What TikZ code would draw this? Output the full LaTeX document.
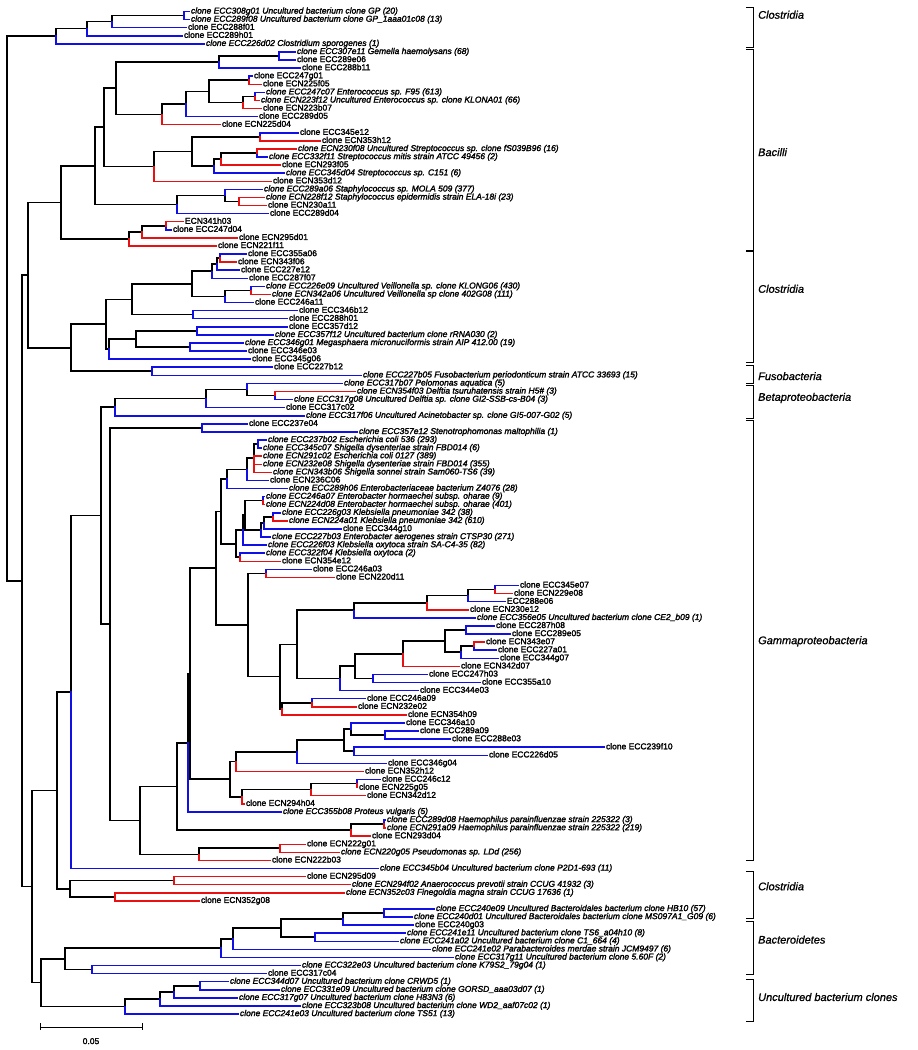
\documentclass[tikz,border=0pt]{standalone}
\usepackage{fontspec}
\newfontfamily\treefont{Liberation Sans}[FakeBold=2]
\newfontfamily\cladefont{Liberation Sans}[FakeBold=1]
\definecolor{eccblue}{RGB}{16,16,230}
\definecolor{ecnred}{RGB}{232,16,16}
\tikzset{
    stem/.style = {
        line width=1.6pt,
        black,
        line cap=rect,
    },
    eccbr/.style = {
        line width=1.5pt,
        eccblue,
        line cap=rect,
    },
    ecnbr/.style = {
        line width=1.5pt,
        ecnred,
        line cap=rect,
    },
    leaf/.style = {
        anchor=west, inner xsep=1.8pt, inner ysep=0pt,
        text height=6pt, text depth=1.8pt,
        font=\treefont\fontsize{8.5}{9}\selectfont
    },
    sp/.style = {
        leaf,
        font=\treefont\fontsize{8.5}{9}\selectfont\itshape
    },
    clade/.style = {
        anchor=west, inner sep=0pt,
        font=\cladefont\fontsize{11}{12}\selectfont\itshape
    },
    brk/.style = {
        line width=0.9pt,
        black,
    }
}
\newcommand\phylum[4]{%
  \draw[brk] (746,#1) -- (753,#1) -- (753,#2) -- (746,#2);
  \node[clade] at (758,#3) {#4};}

\begin{document}
\begin{tikzpicture}[x=1pt, y=-8.085pt]
  \useasboundingbox (0,-0.4224) rectangle (918,129.45);

  % Leaves (one row per clone)
  \node[sp]   (L1)   at (189,1)   {clone ECC308g01 Uncultured bacterium clone GP (20)};
  \node[sp]   (L2)   at (189,2)   {clone ECC289f08 Uncultured bacterium clone GP\_1aaa01c08 (13)};
  \node[leaf] (L3)   at (186,3)   {clone ECC288f01};
  \node[leaf] (L4)   at (182,4)   {clone ECC289h01};
  \node[sp]   (L5)   at (204,5)   {clone ECC226d02 Clostridium sporogenes (1)};
  \node[sp]   (L6)   at (295,6)   {clone ECC307e11 Gemella haemolysans (68)};
  \node[leaf] (L7)   at (295,7)   {clone ECC289e06};
  \node[leaf] (L8)   at (300,8)   {clone ECC288b11};
  \node[leaf] (L9)   at (252,9)   {clone ECC247g01};
  \node[leaf] (L10)  at (261,10)  {clone ECN225f05};
  \node[sp]   (L11)  at (264,11)  {clone ECC247c07 Enterococcus sp. F95 (613)};
  \node[sp]   (L12)  at (259,12)  {clone ECN223f12 Uncultured Enterococcus sp. clone KLONA01 (66)};
  \node[leaf] (L13)  at (261,13)  {clone ECN223b07};
  \node[leaf] (L14)  at (257,14)  {clone ECC289d05};
  \node[leaf] (L15)  at (220,15)  {clone ECN225d04};
  \node[leaf] (L16)  at (298,16)  {clone ECC345e12};
  \node[leaf] (L17)  at (320,17)  {clone ECN353h12};
  \node[sp]   (L18)  at (296,18)  {clone ECN230f08 Uncultured Streptococcus sp. clone fS039B96 (16)};
  \node[sp]   (L19)  at (267,19)  {clone ECC332f11 Streptococcus mitis strain ATCC 49456 (2)};
  \node[leaf] (L20)  at (280,20)  {clone ECN293f05};
  \node[sp]   (L21)  at (284,21)  {clone ECC345d04 Streptococcus sp. C151 (6)};
  \node[leaf] (L22)  at (271,22)  {clone ECN353d12};
  \node[sp]   (L23)  at (262,23)  {clone ECC289a06 Staphylococcus sp. MOLA 509 (377)};
  \node[sp]   (L24)  at (264,24)  {clone ECN228f12 Staphylococcus epidermidis strain ELA-18i (23)};
  \node[leaf] (L25)  at (266,25)  {clone ECN230a11};
  \node[leaf] (L26)  at (268,26)  {clone ECC289d04};
  \node[leaf] (L27)  at (183,27)  {ECN341h03};
  \node[leaf] (L28)  at (171,28)  {clone ECC247d04};
  \node[leaf] (L29)  at (237,29)  {clone ECN295d01};
  \node[leaf] (L30)  at (216,30)  {clone ECN221f11};
  \node[leaf] (L31)  at (246,31)  {clone ECC355a06};
  \node[leaf] (L32)  at (236,32)  {clone ECN343f06};
  \node[leaf] (L33)  at (239,33)  {clone ECC227e12};
  \node[leaf] (L34)  at (247,34)  {clone ECC287f07};
  \node[sp]   (L35)  at (264,35)  {clone ECC226e09 Uncultured Veillonella sp. clone KLONG06 (430)};
  \node[sp]   (L36)  at (270,36)  {clone ECN342a06 Uncultured Veillonella sp clone 402G08 (111)};
  \node[leaf] (L37)  at (253,37)  {clone ECC246a11};
  \node[leaf] (L38)  at (297,38)  {clone ECC346b12};
  \node[leaf] (L39)  at (287,39)  {clone ECC288h01};
  \node[leaf] (L40)  at (287,40)  {clone ECC357d12};
  \node[sp]   (L41)  at (273,41)  {clone ECC357f12 Uncultured bacterium clone rRNA030 (2)};
  \node[sp]   (L42)  at (243,42)  {clone ECC346g01 Megasphaera micronuciformis strain AIP 412.00 (19)};
  \node[leaf] (L43)  at (246,43)  {clone ECC346e03};
  \node[leaf] (L44)  at (250,44)  {clone ECC345g06};
  \node[leaf] (L45)  at (272,45)  {clone ECC227b12};
  \node[sp]   (L46)  at (361,46)  {clone ECC227b05 Fusobacterium periodonticum strain ATCC 33693 (15)};
  \node[sp]   (L47)  at (342,47)  {clone ECC317b07 Pelomonas aquatica (5)};
  \node[sp]   (L48)  at (355,48)  {clone ECN354f03 Delftia tsuruhatensis strain H5\# (3)};
  \node[sp]   (L49)  at (292,49)  {clone ECC317g08 Uncultured Delftia sp. clone GI2-SSB-cs-B04 (3)};
  \node[leaf] (L50)  at (284,50)  {clone ECC317c02};
  \node[sp]   (L51)  at (304,51)  {clone ECC317f06 Uncultured Acinetobacter sp. clone GI5-007-G02 (5)};
  \node[leaf] (L52)  at (247,52)  {clone ECC237e04};
  \node[sp]   (L53)  at (357,53)  {clone ECC357e12 Stenotrophomonas maltophilia (1)};
  \node[sp]   (L54)  at (266,54)  {clone ECC237b02 Escherichia coli 536 (293)};
  \node[sp]   (L55)  at (261,55)  {clone ECC345c07 Shigella dysenteriae strain FBD014 (6)};
  \node[sp]   (L56)  at (261,56)  {clone ECN291c02 Escherichia coli 0127 (389)};
  \node[sp]   (L57)  at (261,57)  {clone ECN232e08 Shigella dysenteriae strain FBD014 (355)};
  \node[sp]   (L58)  at (271,58)  {clone ECN343b06 Shigella sonnei strain Sam060-TS6 (39)};
  \node[leaf] (L59)  at (268,59)  {clone ECN236C06};
  \node[sp]   (L60)  at (287,60)  {clone ECC289h06 Enterobacteriaceae bacterium Z4076 (28)};
  \node[sp]   (L61)  at (264,61)  {clone ECC246a07 Enterobacter hormaechei subsp. oharae (9)};
  \node[sp]   (L62)  at (264,62)  {clone ECN224d08 Enterobacter hormaechei subsp. oharae (401)};
  \node[sp]   (L63)  at (280,63)  {clone ECC226g03 Klebsiella pneumoniae 342 (38)};
  \node[sp]   (L64)  at (287,64)  {clone ECN224a01 Klebsiella pneumoniae 342 (610)};
  \node[leaf] (L65)  at (341,65)  {clone ECC344g10};
  \node[sp]   (L66)  at (270,66)  {clone ECC227b03 Enterobacter aerogenes strain CTSP30 (271)};
  \node[sp]   (L67)  at (266,67)  {clone ECC226f03 Klebsiella oxytoca strain SA-C4-35 (82)};
  \node[sp]   (L68)  at (264,68)  {clone ECC322f04 Klebsiella oxytoca (2)};
  \node[leaf] (L69)  at (280,69)  {clone ECN354e12};
  \node[leaf] (L70)  at (311,70)  {clone ECC246a03};
  \node[leaf] (L71)  at (334,71)  {clone ECN220d11};
  \node[leaf] (L72)  at (518,72)  {clone ECC345e07};
  \node[leaf] (L73)  at (512,73)  {clone ECN229e08};
  \node[leaf] (L74)  at (505,74)  {ECC288e06};
  \node[leaf] (L75)  at (468,75)  {clone ECN230e12};
  \node[sp]   (L76)  at (475,76)  {clone ECC356e05 Uncultured bacterium clone CE2\_b09 (1)};
  \node[leaf] (L77)  at (494,77)  {clone ECC287h08};
  \node[leaf] (L78)  at (510,78)  {clone ECC289e05};
  \node[leaf] (L79)  at (484,79)  {clone ECN343e07};
  \node[leaf] (L80)  at (496,80)  {clone ECC227a01};
  \node[leaf] (L81)  at (498,81)  {clone ECC344g07};
  \node[leaf] (L82)  at (459,82)  {clone ECN342d07};
  \node[leaf] (L83)  at (427,83)  {clone ECC247h03};
  \node[leaf] (L84)  at (480,84)  {clone ECC355a10};
  \node[leaf] (L85)  at (418,85)  {clone ECC344e03};
  \node[leaf] (L86)  at (365,86)  {clone ECC246a09};
  \node[leaf] (L87)  at (356,87)  {clone ECN232e02};
  \node[leaf] (L88)  at (406,88)  {clone ECN354h09};
  \node[leaf] (L89)  at (404,89)  {clone ECC346a10};
  \node[leaf] (L90)  at (418,90)  {clone ECC289a09};
  \node[leaf] (L91)  at (450,91)  {clone ECC288e03};
  \node[leaf] (L92)  at (604,92)  {clone ECC239f10};
  \node[leaf] (L93)  at (487,93)  {clone ECC226d05};
  \node[leaf] (L94)  at (386,94)  {clone ECC346g04};
  \node[leaf] (L95)  at (363,95)  {clone ECN352h12};
  \node[leaf] (L96)  at (380,96)  {clone ECC246c12};
  \node[leaf] (L97)  at (357,97)  {clone ECN225g05};
  \node[leaf] (L98)  at (365,98)  {clone ECN342d12};
  \node[leaf] (L99)  at (244,99)  {clone ECN294h04};
  \node[sp]   (L100) at (281,100) {clone ECC355b08 Proteus vulgaris (5)};
  \node[sp]   (L101) at (385,101) {clone ECC289d08 Haemophilus parainfluenzae strain 225322 (3)};
  \node[sp]   (L102) at (385,102) {clone ECN291a09 Haemophilus parainfluenzae strain 225322 (219)};
  \node[leaf] (L103) at (370,103) {clone ECN293d04};
  \node[leaf] (L104) at (305,104) {clone ECN222g01};
  \node[sp]   (L105) at (339,105) {clone ECN220g05 Pseudomonas sp. LDd (256)};
  \node[leaf] (L106) at (270,106) {clone ECN222b03};
  \node[sp]   (L107) at (378,107) {clone ECC345b04 Uncultured bacterium clone P2D1-693 (11)};
  \node[leaf] (L108) at (305,108) {clone ECN295d09};
  \node[sp]   (L109) at (350,109) {clone ECN294f02 Anaerococcus prevotii strain CCUG 41932 (3)};
  \node[sp]   (L110) at (344,110) {clone ECN352c03 Finegoldia magna strain CCUG 17636 (1)};
  \node[leaf] (L111) at (199,111) {clone ECN352g08};
  \node[sp]   (L112) at (434,112) {clone ECC240e09 Uncultured Bacteroidales bacterium clone HB10 (57)};
  \node[sp]   (L113) at (412,113) {clone ECC240d01 Uncultured Bacteroidales bacterium clone MS097A1\_G09 (6)};
  \node[leaf] (L114) at (413,114) {clone ECC240g03};
  \node[sp]   (L115) at (405,115) {clone ECC241e11 Uncultured bacterium clone TS6\_a04h10 (8)};
  \node[sp]   (L116) at (398,116) {clone ECC241a02 Uncultured bacterium clone C1\_664 (4)};
  \node[sp]   (L117) at (430,117) {clone ECC241e02 Parabacteroides merdae strain JCM9497 (6)};
  \node[sp]   (L118) at (453,118) {clone ECC317g11 Uncultured bacterium clone 5.60F (2)};
  \node[sp]   (L119) at (300,119) {clone ECC322e03 Uncultured bacterium clone K79S2\_79g04 (1)};
  \node[leaf] (L120) at (266,120) {clone ECC317c04};
  \node[sp]   (L121) at (228,121) {clone ECC344d07 Uncultured bacterium clone CRWD5 (1)};
  \node[sp]   (L122) at (279,122) {clone ECC331e09 Uncultured bacterium clone GORSD\_aaa03d07 (1)};
  \node[sp]   (L123) at (237,123) {clone ECC317g07 Uncultured bacterium clone H83N3 (6)};
  \node[sp]   (L124) at (300,124) {clone ECC323b08 Uncultured bacterium clone WD2\_aaf07c02 (1)};
  \node[sp]   (L125) at (238,125) {clone ECC241e03 Uncultured bacterium clone TS51 (13)};

  % Inner nodes
  \coordinate (a1) at (184,1.5);    \coordinate (a2) at (112,2.25);
  \coordinate (a3) at (87,3.125);   \coordinate (a4) at (56,4.06);
  \coordinate (b1) at (279,6.5);    \coordinate (b2) at (219,7.25);
  \coordinate (b3) at (249,9.5);    \coordinate (b4) at (255,11.5);
  \coordinate (b5) at (243,12.25);  \coordinate (b6) at (209,10.875);
  \coordinate (b7) at (186,12.44);  \coordinate (b8) at (162,13.72);
  \coordinate (b9) at (116,10.49);  \coordinate (b10) at (260,16.5);
  \coordinate (b11) at (257,18.5);  \coordinate (b12) at (221,19.25);
  \coordinate (b13) at (214,20.13); \coordinate (b14) at (192,18.31);
  \coordinate (b15) at (154,20.16); \coordinate (b16) at (104,15.32);
  \coordinate (b17) at (239,24.5);  \coordinate (b18) at (225,23.75);
  \coordinate (b19) at (177,24.88); \coordinate (b20) at (95,20.1);
  \coordinate (b21) at (166,27.5);  \coordinate (b22) at (142,28.25);
  \coordinate (b23) at (129,29.13); \coordinate (b24) at (61,24.61);
  \coordinate (c1) at (220,31.5);   \coordinate (c2) at (217,32.25);
  \coordinate (c3) at (212,33.13);  \coordinate (c4) at (251,35.5);
  \coordinate (c5) at (225,36.25);  \coordinate (c6) at (192,34.69);
  \coordinate (c7) at (193,38.5);   \coordinate (c8) at (132,36.6);
  \coordinate (c9) at (197,40.5);   \coordinate (c10) at (190,42.5);
  \coordinate (c11) at (136,41.5);  \coordinate (c12) at (109,42.75);
  \coordinate (c13) at (106,39.67); \coordinate (c14) at (152,45.5);
  \coordinate (c15) at (71,42.59);  \coordinate (c16) at (28,33.6);
  \coordinate (d1) at (275,48.5);   \coordinate (d2) at (247,47.75);
  \coordinate (d3) at (206,48.88);  \coordinate (d4) at (115,49.94);
  \coordinate (g1) at (202,52.5);   \coordinate (g2) at (258,54.5);
  \coordinate (g3) at (254,56.25);  \coordinate (g4) at (247,57.63);
  \coordinate (g5) at (227,58.81);  \coordinate (k1) at (263,61.5);
  \coordinate (k2) at (273,63.5);   \coordinate (k3) at (264,64.25);
  \coordinate (k4) at (261,65.13);  \coordinate (k5) at (245,63.31);
  \coordinate (k6) at (243,65.16);  \coordinate (k7) at (240,68.5);
  \coordinate (k8) at (236,66.83);  \coordinate (g6) at (221,62.82);
  \coordinate (h1) at (266,70.5);   \coordinate (m1) at (495,72.5);
  \coordinate (m2) at (468,73.25);  \coordinate (m3) at (427,74.13);
  \coordinate (m4) at (354,75.06);  \coordinate (m5) at (466,77.5);
  \coordinate (m6) at (474,79.5);   \coordinate (m7) at (461,80.25);
  \coordinate (m8) at (445,78.88);  \coordinate (m9) at (403,80.44);
  \coordinate (m10) at (373,83.5);  \coordinate (m11) at (355,81.97);
  \coordinate (m12) at (340,83.49); \coordinate (m13) at (297,79.27);
  \coordinate (m14) at (312,86.5);  \coordinate (m15) at (282,87.25);
  \coordinate (m16) at (280,83.26); \coordinate (h2) at (248,76.88);
  \coordinate (g7) at (216,69.85);  \coordinate (p1) at (385,90.5);
  \coordinate (p2) at (351,89.75);  \coordinate (p3) at (354,92.5);
  \coordinate (p4) at (344,91.13);  \coordinate (p5) at (297,92.56);
  \coordinate (p6) at (236,93.78);  \coordinate (p7) at (357,96.5);
  \coordinate (p8) at (311,97.25);  \coordinate (p9) at (242,98.13);
  \coordinate (p10) at (230,95.95); \coordinate (g8) at (190,82.9);
  \coordinate (g9) at (188,91.45);  \coordinate (q1) at (384,101.5);
  \coordinate (q2) at (351,102.25); \coordinate (g10) at (177,96.85);
  \coordinate (r1) at (280,104.5);  \coordinate (r2) at (199,105.25);
  \coordinate (g11) at (140,101.05); \coordinate (g12) at (110,76.78);
  \coordinate (g13) at (101,63.36); \coordinate (g14) at (71,85.18);
  \coordinate (s1) at (174,108.5);  \coordinate (s2) at (115,110.5);
  \coordinate (s3) at (70,109.5);   \coordinate (s4) at (57,97.34);
  \coordinate (t1) at (384,112.5);  \coordinate (t2) at (343,113.25);
  \coordinate (t3) at (315,115.5);  \coordinate (t4) at (281,114.38);
  \coordinate (t5) at (233,115.69); \coordinate (t6) at (221,116.84);
  \coordinate (t7) at (92,119.5);   \coordinate (t8) at (65,118.17);
  \coordinate (u1) at (200,121.5);  \coordinate (u2) at (174,122.25);
  \coordinate (u3) at (160,123.13); \coordinate (u4) at (125,124.06);
  \coordinate (t9) at (41,121.12);  \coordinate (t10) at (32,109.23);
  \coordinate (n22) at (22,71.41);  \coordinate (root) at (7,37.74);

  % Inner branches
  \foreach \p/\c in {a2/a1,a3/a2,a4/a3,root/a4,
      b2/b1,b6/b3,b5/b4,b6/b5,b7/b6,b8/b7,b9/b2,b9/b8,b12/b11,b13/b12,b14/b10,
      b14/b13,b15/b14,b16/b9,b16/b15,b18/b17,b19/b18,b20/b16,b20/b19,b22/b21,
      b23/b22,b24/b20,b24/b23,
      c2/c1,c3/c2,c5/c4,c6/c3,c6/c5,c8/c6,c8/c7,c11/c9,c11/c10,c12/c11,c13/c8,
      c13/c12,c15/c13,c15/c14,c16/b24,c16/c15,
      d2/d1,d3/d2,d4/d3,
      g3/g2,g4/g3,g5/g4,k3/k2,k4/k3,k5/k1,k5/k4,k6/k5,k8/k6,k8/k7,g6/g5,g6/k8,
      m2/m1,m3/m2,m4/m3,m7/m6,m8/m5,m8/m7,m9/m8,m11/m9,m11/m10,m12/m11,m13/m4,
      m13/m12,m15/m14,m16/m13,m16/m15,h2/h1,h2/m16,g7/g6,g7/h2,
      p2/p1,p4/p2,p4/p3,p5/p4,p6/p5,p8/p7,p9/p8,p10/p6,p10/p9,g8/g7,g8/p10,
      g9/g8,q2/q1,g10/g9,g10/q2,r2/r1,g11/g10,g11/r2,g12/g1,g12/g11,g13/d4,
      g13/g12,g14/g13,s3/s1,s3/s2,s4/g14,s4/s3,
      t2/t1,t4/t2,t4/t3,t5/t4,t6/t5,t8/t6,t8/t7,u2/u1,u3/u2,u4/u3,t9/t8,t9/u4,
      t10/s4,t10/t9,n22/c16,n22/t10,root/n22}
    \draw[stem] (\p) |- (\c);

  % ECC clones
  \foreach \p/\c in {a1/L1,a1/L2,a2/L3,a3/L4,a4/L5,
      b1/L6,b1/L7,b2/L8,b3/L9,b4/L11,b7/L14,b10/L16,b11/L19,b13/L21,b18/L23,
      b19/L26,b21/L28,
      c1/L31,c2/L33,c3/L34,c4/L35,c5/L37,c7/L38,c7/L39,c9/L40,c9/L41,c10/L42,
      c10/L43,c12/L44,c14/L45,c14/L46,
      d2/L47,d1/L49,d3/L50,d4/L51,
      g1/L52,g1/L53,g2/L54,g2/L55,g4/L59,g5/L60,k1/L61,k2/L63,k3/L65,k4/L66,
      k6/L67,k7/L68,h1/L70,
      m1/L72,m2/L74,m4/L76,m5/L77,m5/L78,m6/L80,m7/L81,m10/L83,m10/L84,
      m12/L85,m14/L86,
      p2/L89,p1/L90,p1/L91,p3/L92,p3/L93,p5/L94,p7/L96,g9/L100,q1/L101,g14/L107,
      t1/L112,t1/L113,t2/L114,t3/L115,t3/L116,t5/L117,t6/L118,t7/L119,t7/L120,
      u1/L121,u1/L122,u2/L123,u3/L124,u4/L125}
    \draw[eccbr] (\p) |- (\c.west);

  % ECN clones
  \foreach \p/\c in {b3/L10,b4/L12,b5/L13,b8/L15,b10/L17,b11/L18,b12/L20,
      b15/L22,b17/L24,b17/L25,b21/L27,b22/L29,b23/L30,
      c1/L32,c4/L36,d1/L48,
      g3/L56,g3/L57,g3/L58,k1/L62,k2/L64,k7/L69,h1/L71,
      m1/L73,m3/L75,m6/L79,m9/L82,m14/L87,m15/L88,
      p6/L95,p7/L97,p8/L98,p9/L99,q1/L102,q2/L103,r1/L104,r1/L105,r2/L106,
      s1/L108,s1/L109,s2/L110,s2/L111}
    \draw[ecnbr] (\p) |- (\c.west);

  % Phyla
  \phylum{0.45}{5.5}{1.4}{Clostridia}
  \phylum{5.7}{30.5}{18.4}{Bacilli}
  \phylum{30.7}{44.4}{35.3}{Clostridia}
  \phylum{44.8}{47.0}{46.1}{Fusobacteria}
  \phylum{47.3}{51.3}{48.8}{Betaproteobacteria}
  \phylum{51.6}{106}{78.9}{Gammaproteobacteria}
  \phylum{107.4}{113.2}{109.2}{Clostridia}
  \phylum{113.5}{120.1}{115.8}{Bacteroidetes}
  \phylum{120.7}{125.9}{122.9}{Uncultured bacterium clones}

  % Scale bar
  \coordinate (sbl) at (40,126.6);
  \coordinate (sbr) at (142,126.6);
  \draw[brk] (sbl) -- (sbr);
  \draw[brk] ([yshift=3.5pt]sbl) -- ([yshift=-3.5pt]sbl);
  \draw[brk] ([yshift=3.5pt]sbr) -- ([yshift=-3.5pt]sbr);
  \node[leaf, anchor=center] (sbtext) at (91,128.46) {0.05};
\end{tikzpicture}
\end{document}
